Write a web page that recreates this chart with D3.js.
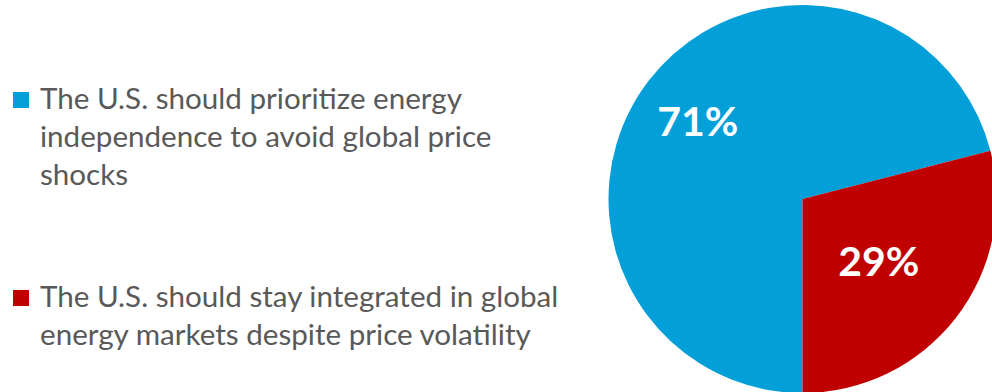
<!DOCTYPE html>
<html>
<head>
<meta charset="utf-8">
<script src="https://cdn.jsdelivr.net/npm/d3@7/dist/d3.min.js"></script>
<style>
  html, body { margin: 0; padding: 0; background: #fff; }
  svg { display: block; }
</style>
</head>
<body>
<svg id="chart" width="992" height="392"></svg>
<script>
// Survey responses
const categories = [
  "The U.S. should prioritize energy independence to avoid global price shocks",
  "The U.S. should stay integrated in global energy markets despite price volatility"
];
const values = [71, 29];
const valueLabels = ["71%", "29%"];
const legendLines = [
  ["The U.S. should prioritize energy", "independence to avoid global price", "shocks"],
  ["The U.S. should stay integrated in global", "energy markets despite price volatility"]
];
const colors = ["#039fd9", "#c00000"];

const svg = d3.select("#chart");

// Pie geometry
const cx = 802.5, cy = 199, R = 194;
const labelRadius = [130, 99];

const pie = d3.pie().sort(null).startAngle(Math.PI).endAngle(3 * Math.PI);
const arcs = pie(values);
const arc = d3.arc().innerRadius(0).outerRadius(R);

const g = svg.append("g").attr("transform", `translate(${cx},${cy})`);
g.selectAll("path.slice")
  .data(arcs)
  .join("path")
  .attr("class", "slice")
  .attr("d", arc)
  .attr("fill", (d, i) => colors[i]);

g.selectAll("text.pct")
  .data(arcs)
  .join("text")
  .attr("class", "pct")
  .attr("transform", (d, i) => {
    const c = d3.arc().innerRadius(labelRadius[i]).outerRadius(labelRadius[i]).centroid(d);
    return `translate(${c[0] - 2},${c[1] + 1})`;
  })
  .attr("text-anchor", "middle")
  .attr("dominant-baseline", "central")
  .attr("font-family", "Lato, 'Open Sans', sans-serif")
  .attr("font-weight", 700)
  .attr("font-size", 41)
  .attr("fill", "#fff")
  .text((d, i) => valueLabels[i]);

// Legend
const legendTop = [109, 307];
const lineH = 37.8;
const legend = svg.append("g");
const items = legend.selectAll("g.item")
  .data(categories)
  .join("g")
  .attr("class", "item");

items.append("rect")
  .attr("x", 13)
  .attr("y", (d, i) => legendTop[i] - 17)
  .attr("width", 16)
  .attr("height", 16)
  .attr("fill", (d, i) => colors[i]);

items.append("text")
  .attr("font-family", "Lato, 'Open Sans', sans-serif")
  .attr("font-size", 29.6)
  .attr("fill", "#595959")
  .each(function(d, i) {
    d3.select(this).selectAll("tspan")
      .data(legendLines[i])
      .join("tspan")
      .attr("x", 40)
      .attr("y", (t, j) => legendTop[i] + j * lineH)
      .text(t => t);
  });
</script>
</body>
</html>
